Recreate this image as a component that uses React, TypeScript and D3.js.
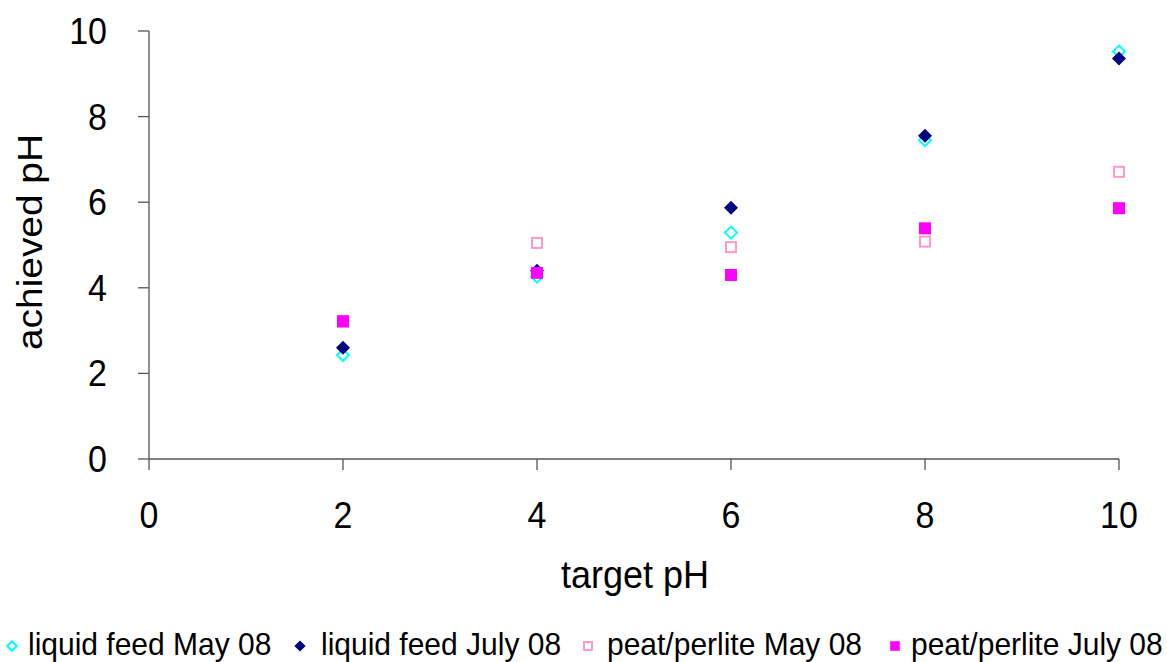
import React from "react";
import * as d3 from "d3";

const targetPH = [2, 4, 6, 8, 10];
const liquidMay = [2.43, 4.26, 5.29, 7.45, 9.52];
const liquidJuly = [2.6, 4.4, 5.87, 7.55, 9.36];
const peatMay = [3.2, 5.05, 4.95, 5.08, 6.71];
const peatJuly = [3.22, 4.35, 4.3, 5.39, 5.86];
const xTicks = [0, 2, 4, 6, 8, 10];
const yTicks = [0, 2, 4, 6, 8, 10];

const seriesNames = [
  "liquid feed May 08",
  "liquid feed July 08",
  "peat/perlite May 08",
  "peat/perlite July 08",
];

const FONT = "'Liberation Sans', Arial, sans-serif";
const SY = 1.1;

function Marker({ kind, x, y, s = 1 }: { kind: number; x: number; y: number; s?: number }) {
  if (kind === 0) {
    const r = 6 * s;
    return (
      <path
        d={`M${x},${y - r}L${x + r},${y}L${x},${y + r}L${x - r},${y}Z`}
        fill="white"
        stroke="#00ffff"
        strokeWidth={2}
      />
    );
  }
  if (kind === 1) {
    const r = 7 * s;
    return <path d={`M${x},${y - r}L${x + r},${y}L${x},${y + r}L${x - r},${y}Z`} fill="#000080" />;
  }
  if (kind === 2) {
    const h = 5 * s;
    return <rect x={x - h} y={y - h} width={2 * h} height={2 * h} fill="white" stroke="#ff99cc" strokeWidth={2} />;
  }
  const h = 6 * s;
  return <rect x={x - h} y={y - h} width={2 * h} height={2 * h} fill="#ff00ff" />;
}

function T({ x, y, size, anchor = "start", children, rotate = 0, sy = SY }: any) {
  return (
    <text
      transform={`translate(${x},${y}) rotate(${rotate}) scale(1,${sy})`}
      textAnchor={anchor}
      fontSize={size}
      fill="black"
    >
      {children}
    </text>
  );
}

export default function App() {
  const W = 1167;
  const H = 662;
  const x = d3.scaleLinear().domain([0, 10]).range([149, 1119]);
  const y = d3.scaleLinear().domain([0, 10]).range([459, 31]);
  const data = [liquidMay, liquidJuly, peatMay, peatJuly];

  const legendX = [12, 300, 588, 895];
  const legendTextX = [28, 321, 607, 911];
  const legendY = 646;

  return (
    <svg
      width={W}
      height={H}
      style={{ position: "absolute", left: 0, top: 0, background: "white" }}
      fontFamily={FONT}
    >
      <rect width={W} height={H} fill="white" />
      <line x1={x(0)} x2={x(0)} y1={y(10)} y2={y(0)} stroke="#555" strokeWidth={1.3} />
      {yTicks.map((t) => (
        <g key={"yt" + t}>
          <line x1={x(0) - 11} x2={x(0)} y1={y(t)} y2={y(t)} stroke="#555" strokeWidth={1.3} />
          <T x={107} y={y(t) + 13} size={34} anchor="end">
            {t}
          </T>
        </g>
      ))}
      <line x1={x(0)} x2={x(10)} y1={y(0)} y2={y(0)} stroke="#555" strokeWidth={1.3} />
      {xTicks.map((t) => (
        <g key={"xt" + t}>
          <line x1={x(t)} x2={x(t)} y1={y(0)} y2={y(0) + 11} stroke="#555" strokeWidth={1.3} />
          <T x={x(t)} y={528} size={34} anchor="middle">
            {t}
          </T>
        </g>
      ))}
      <T x={635} y={588} size={36} anchor="middle">
        target pH
      </T>
      <text
        transform={`translate(42,242) rotate(-90) scale(1.08,1)`}
        textAnchor="middle"
        fontSize={36}
        fill="black"
      >
        achieved pH
      </text>
      {data.map((vals, k) =>
        vals.map((v, i) => <Marker key={k + "-" + i} kind={k} x={x(targetPH[i])} y={y(v)} />)
      )}
      {seriesNames.map((n, k) => (
        <g key={"lg" + k}>
          <Marker kind={k} x={legendX[k]} y={legendY} s={0.8} />
          <T x={legendTextX[k]} y={655} size={30} sy={1.04}>
            {n}
          </T>
        </g>
      ))}
    </svg>
  );
}
